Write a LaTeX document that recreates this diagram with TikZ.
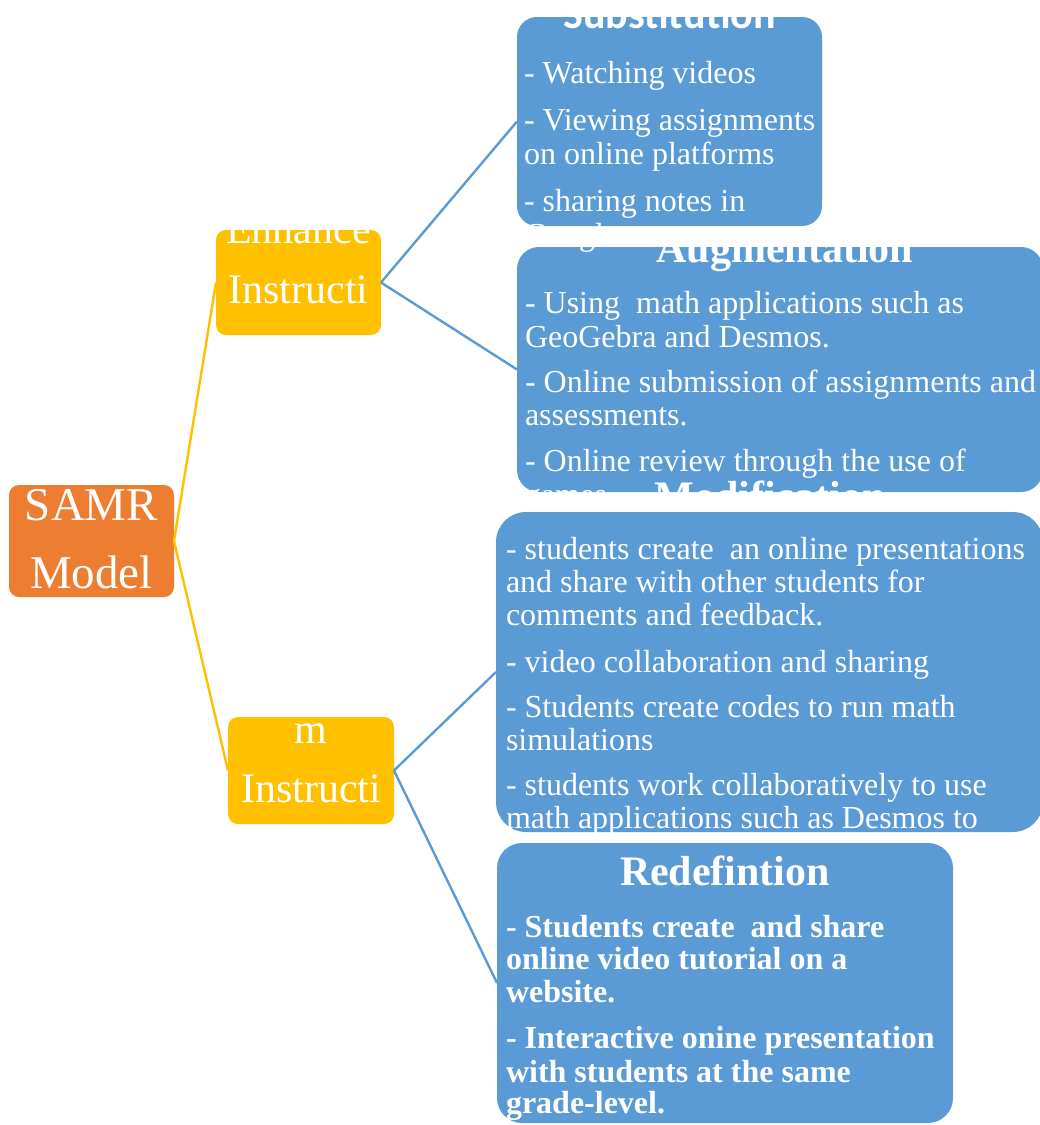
\documentclass[tikz,border=0pt]{standalone}
\usepackage{fontspec}
\setmainfont{Liberation Serif}
\newfontfamily\headsans{Carlito}
\definecolor{samrorange}{HTML}{ED7D31}
\definecolor{levelgold}{HTML}{FFC000}
\definecolor{stageblue}{HTML}{5B9BD5}
\begin{document}
\begin{tikzpicture}[x=1pt,y=-1pt,
  box/.style={rectangle, inner sep=0pt, outer sep=0pt, draw=none},
  rootbox/.style={box, fill=samrorange, rounded corners=10pt},
  levelbox/.style={box, fill=levelgold, rounded corners=10pt},
  stagebox/.style={box, fill=stageblue},
  goldlink/.style={draw=levelgold, line width=2.4pt},
  bluelink/.style={draw=stageblue, line width=2.4pt},
  txt/.style={inner sep=0pt, outer sep=0pt, text=white},
  bodyline/.style={txt, anchor=base west, font=\fontsize{32}{35}\selectfont},
  boldline/.style={bodyline, font=\fontsize{32}{35}\selectfont\bfseries},
  stagetitle/.style={txt, anchor=base, font=\fontsize{42}{46}\selectfont\bfseries},
  leveltext/.style={txt, anchor=base, font=\fontsize{42}{46}\selectfont},
  roottext/.style={txt, anchor=base, font=\fontsize{47}{50}\selectfont}]
\useasboundingbox (0,0) rectangle (1040,1125);

% boxes
\node[rootbox, minimum width=165pt, minimum height=112pt] (samr) at (91.5,541) {};
\node[levelbox, minimum width=165pt, minimum height=105pt] (enh) at (298.5,282.5) {};
\node[levelbox, minimum width=166pt, minimum height=107pt] (trn) at (311,770.5) {};
\node[stagebox, rounded corners=20pt, minimum width=305pt, minimum height=209pt] (sub) at (669.5,121.5) {};
\node[stagebox, rounded corners=22pt, minimum width=526pt, minimum height=245pt] (aug) at (780,369.5) {};
\node[stagebox, rounded corners=30pt, minimum width=547pt, minimum height=320pt] (mod) at (769.5,672) {};
\node[stagebox, rounded corners=25pt, minimum width=456pt, minimum height=280pt] (red) at (725,983) {};

% connectors
\draw[goldlink] (samr.east) -- (enh.west);
\draw[goldlink] (samr.east) -- (trn.west);
\draw[bluelink] (enh.east) -- (sub.west);
\draw[bluelink] (enh.east) -- (aug.west);
\draw[bluelink] (trn.east) -- (mod.west);
\draw[bluelink] (trn.east) -- (red.west);

% root and level labels
\node[roottext] (samr1) at (91.5,520) {SAMR};
\node[roottext] (samr2) at (91.5,588) {Model};
\node[leveltext] (enh1) at (298.5,243) {Enhance};
\node[leveltext] (enh2) at (298.5,303) {Instructi};
\node[leveltext] (enh3) at (298.5,363) {on};
\node[leveltext] (trn1) at (311,684) {Transfor};
\node[leveltext] (trn2) at (311,743) {m};
\node[leveltext] (trn3) at (311,802) {Instructi};
\node[leveltext] (trn4) at (311,861) {on};

% Substitution
\node[stagetitle, font=\headsans\fontsize{42}{46}\selectfont\bfseries] (subt) at (669.5,28) {Substitution};
\foreach \y/\t [count=\i] in {83/{- Watching videos}, 130/{- Viewing assignments}, 164/{on online platforms}, 211/{- sharing notes in}, 245/{Google}}
  \node[bodyline] (sub-\i) at (524,\y) {\t};

% Augmentation
\node[stagetitle] (augt) at (785,262) {Augmentation};
\foreach \y/\t [count=\i] in {313/{- Using\ \ math applications such as}, 347/{GeoGebra and Desmos.}, 392/{- Online submission of assignments and}, 425/{assessments.}, 471/{- Online review through the use of}, 505/{games.}}
  \node[bodyline] (aug-\i) at (525,\y) {\t};

% Modification
\node[stagetitle] (modt) at (770,510) {Modification};
\foreach \y/\t [count=\i] in {559/{- students create\ \ an online presentations}, 592/{and share with other students for}, 625/{comments and feedback.}, 672/{- video collaboration and sharing}, 717/{- Students create codes to run math}, 750/{simulations}, 795/{- students work collaboratively to use}, 828/{math applications such as Desmos to}}
  \node[bodyline] (mod-\i) at (506,\y) {\t};

% Redefinition
\node[stagetitle] (redt) at (725,885) {Redefintion};
\foreach \y/\t [count=\i] in {937/{- Students create\ \ and share}, 969/{online video tutorial on a}, 1002/{website.}, 1048/{- Interactive onine presentation}, 1082/{with students at the same}, 1113/{grade-level.}}
  \node[boldline] (red-\i) at (506,\y) {\t};
\end{tikzpicture}
\end{document}
